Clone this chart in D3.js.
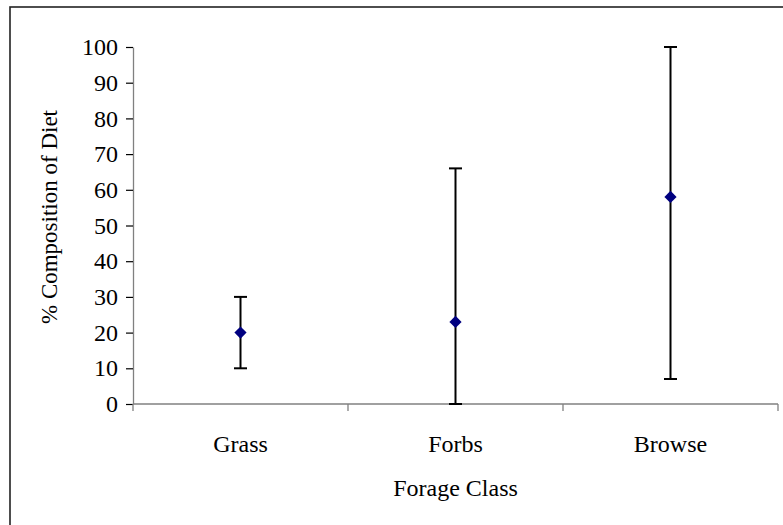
<!DOCTYPE html>
<html>
<head>
<meta charset="utf-8">
<script src="https://cdn.jsdelivr.net/npm/d3@7"></script>
<style>
  html, body { margin: 0; padding: 0; background: #fff; }
  svg { display: block; }
  text { font-family: "Liberation Serif", "Times New Roman", serif; fill: #000; }
</style>
</head>
<body>
<svg id="chart" width="783" height="525"></svg>
<script>
// Diet composition by forage class: mean with min/max range
const categories = ["Grass", "Forbs", "Browse"];
const meanValues = [20, 23, 58];
const lowValues  = [10, 0, 7];
const highValues = [30, 66, 100];
const yTicks = [0, 10, 20, 30, 40, 50, 60, 70, 80, 90, 100];

const svg = d3.select("#chart");
const W = 783, H = 525;
const FONT = "24px";

// outer frame (runs off the right and bottom edges)
svg.append("rect")
  .attr("x", 10).attr("y", 7)
  .attr("width", W + 10).attr("height", H + 10)
  .attr("fill", "none").attr("stroke", "#222").attr("stroke-width", 1.6);

const plot = { left: 133, right: 778, top: 47, bottom: 404 };

const x = d3.scaleBand().domain(categories)
  .range([plot.left, plot.right]).paddingInner(0).paddingOuter(0);
const y = d3.scaleLinear().domain([0, 100]).range([plot.bottom, plot.top]);

// y axis
const yAxis = svg.append("g")
  .attr("transform", `translate(${plot.left},0)`)
  .call(d3.axisLeft(y).tickValues(yTicks).tickSize(7).tickPadding(8).tickSizeOuter(0));
yAxis.select(".domain").attr("stroke", "#808080").attr("stroke-width", 1.3);
yAxis.selectAll(".tick line").attr("stroke", "#000").attr("stroke-width", 1.2);
yAxis.selectAll(".tick text")
  .style("font-family", "'Liberation Serif', serif")
  .style("font-size", FONT).attr("fill", "#000");

// x axis with tick marks on category boundaries
const xAxisG = svg.append("g").attr("transform", `translate(0,${plot.bottom})`);
xAxisG.append("line")
  .attr("x1", plot.left).attr("x2", plot.right)
  .attr("stroke", "#808080").attr("stroke-width", 1.3);
const boundaries = [plot.left].concat(categories.map(c => x(c) + x.bandwidth()));
xAxisG.selectAll("line.b").data(boundaries).join("line")
  .attr("class", "b")
  .attr("x1", d => d).attr("x2", d => d)
  .attr("y1", 0).attr("y2", 7)
  .attr("stroke", "#808080").attr("stroke-width", 1.3);
xAxisG.selectAll("text").data(categories).join("text")
  .attr("x", d => x(d) + x.bandwidth() / 2)
  .attr("y", 48)
  .attr("text-anchor", "middle")
  .style("font-size", FONT)
  .text(d => d);

// axis titles
svg.append("text")
  .attr("x", (plot.left + plot.right) / 2)
  .attr("y", 496)
  .attr("text-anchor", "middle")
  .style("font-size", FONT)
  .text("Forage Class");

svg.append("text")
  .attr("transform", `translate(57,217) rotate(-90)`)
  .attr("text-anchor", "middle")
  .style("font-size", "23px")
  .text("% Composition of Diet");

// range bars
const data = categories.map((c, i) => ({ c, mean: meanValues[i], lo: lowValues[i], hi: highValues[i] }));
const cx = d => x(d.c) + x.bandwidth() / 2;
const capW = 6.5;

const g = svg.append("g");
g.selectAll("line.stem").data(data).join("line")
  .attr("x1", cx).attr("x2", cx)
  .attr("y1", d => y(d.lo)).attr("y2", d => y(d.hi))
  .attr("stroke", "#000").attr("stroke-width", 2);
g.selectAll("line.top").data(data).join("line")
  .attr("x1", d => cx(d) - capW).attr("x2", d => cx(d) + capW)
  .attr("y1", d => y(d.hi)).attr("y2", d => y(d.hi))
  .attr("stroke", "#000").attr("stroke-width", 2);
g.selectAll("line.bot").data(data).join("line")
  .attr("x1", d => cx(d) - capW).attr("x2", d => cx(d) + capW)
  .attr("y1", d => y(d.lo)).attr("y2", d => y(d.lo))
  .attr("stroke", "#000").attr("stroke-width", 2);

// mean markers (diamonds)
const diamond = d3.symbol().type(d3.symbolDiamond2).size(95);
g.selectAll("path.mean").data(data).join("path")
  .attr("transform", d => `translate(${cx(d)},${y(d.mean)})`)
  .attr("d", diamond)
  .attr("fill", "#000080");
</script>
</body>
</html>
